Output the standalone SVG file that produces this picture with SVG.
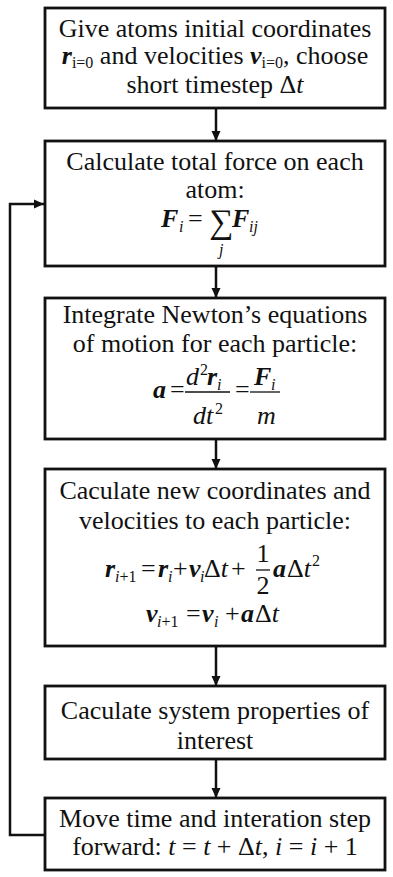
<svg xmlns="http://www.w3.org/2000/svg" width="393" height="877" viewBox="0 0 393 877">
<style>
.box{fill:#fff;stroke:#111;stroke-width:2.8}
.t{font-family:"Liberation Serif","Times New Roman",serif;font-size:26px;fill:#111}
.c{text-anchor:middle}
.bi{font-weight:bold;font-style:italic}
.it{font-style:italic}
.sub{font-size:16px}
.con{fill:none;stroke:#111;stroke-width:2.5}
.fl{stroke:#111;stroke-width:1.3}
</style>
<defs>
<marker id="ah" markerUnits="userSpaceOnUse" markerWidth="11" markerHeight="10" refX="10" refY="5" orient="auto">
<path d="M0,0.5 L10,5 L0,9.5 z" fill="#111"/>
</marker>
</defs>
<rect width="393" height="877" fill="#fff"/>
<g id="connectors">
<line class="con" x1="216" y1="108" x2="216" y2="141" marker-end="url(#ah)"/>
<line class="con" x1="216" y1="266" x2="216" y2="298" marker-end="url(#ah)"/>
<line class="con" x1="216" y1="439" x2="216" y2="469" marker-end="url(#ah)"/>
<line class="con" x1="216" y1="646" x2="216" y2="686" marker-end="url(#ah)"/>
<line class="con" x1="216" y1="759" x2="216" y2="798" marker-end="url(#ah)"/>
<path class="con" d="M45,835 H10 V204 H44" marker-end="url(#ah)"/>
</g>
<g id="node1">
<rect class="box" x="45" y="8" width="340" height="100"/>
<text class="t c" x="215" y="37">Give atoms initial coordinates</text>
<text class="t c" x="215" y="64"><tspan class="bi">r</tspan><tspan class="sub" dy="4">i=0</tspan><tspan dy="-4"> and velocities </tspan><tspan class="bi">v</tspan><tspan class="sub" dy="4">i=0</tspan><tspan dy="-4">, choose</tspan></text>
<text class="t c" x="215" y="93">short timestep Δ<tspan class="it">t</tspan></text>
</g>
<g id="node2">
<rect class="box" x="45" y="141" width="340" height="125"/>
<text class="t c" x="215" y="170">Calculate total force on each</text>
<text class="t c" x="215" y="198">atom:</text>
<text class="t bi" x="161" y="227">F</text>
<text class="t it sub" x="179" y="232">i</text>
<text class="t" x="188" y="227">=</text>
<text class="t" x="209" y="233" style="font-size:34px">∑</text>
<text class="t it sub" x="219" y="255">j</text>
<text class="t bi" x="232" y="227">F</text>
<text class="t it sub" x="249" y="232">ij</text>
</g>
<g id="node3">
<rect class="box" x="45" y="298" width="340" height="141"/>
<text class="t c" x="215" y="323">Integrate Newton’s equations</text>
<text class="t c" x="215" y="352">of motion for each particle:</text>
<text class="t bi" x="153" y="398">a</text>
<text class="t" x="170" y="398">=</text>
<text class="t it" x="186" y="385">d</text>
<text class="t sub" x="200" y="375">2</text>
<text class="t bi" x="207" y="385">r</text>
<text class="t it sub" x="217" y="390">i</text>
<line class="fl" x1="185" y1="392" x2="230" y2="392"/>
<text class="t it" x="193" y="424">dt</text>
<text class="t sub" x="215" y="414">2</text>
<text class="t" x="235" y="398">=</text>
<text class="t bi" x="254" y="385">F</text>
<text class="t it sub" x="271" y="390">i</text>
<line class="fl" x1="250" y1="392" x2="280" y2="392"/>
<text class="t it" x="257" y="424">m</text>
</g>
<g id="node4">
<rect class="box" x="45" y="469" width="340" height="177"/>
<text class="t c" x="215" y="499">Caculate new coordinates and</text>
<text class="t c" x="215" y="529">velocities to each particle:</text>
<text class="t bi" x="105" y="577">r</text>
<text class="t sub" x="115" y="582"><tspan class="it">i</tspan>+1</text>
<text class="t" x="141" y="577">=</text>
<text class="t bi" x="158" y="577">r</text>
<text class="t it sub" x="168" y="582">i</text>
<text class="t" x="173" y="577">+</text>
<text class="t bi" x="189" y="577">v</text>
<text class="t it sub" x="200" y="582">i</text>
<text class="t" x="204" y="577">Δ<tspan class="it">t</tspan></text>
<text class="t" x="231" y="577">+</text>
<text class="t c" x="263" y="562">1</text>
<line class="fl" x1="256" y1="570" x2="270" y2="570"/>
<text class="t c" x="263" y="594">2</text>
<text class="t bi" x="273" y="577">a</text>
<text class="t" x="287" y="577">Δ<tspan class="it">t</tspan></text>
<text class="t sub" x="312" y="566">2</text>
<text class="t bi" x="146" y="622">v</text>
<text class="t sub" x="157" y="627"><tspan class="it">i</tspan>+1</text>
<text class="t" x="186" y="622">=</text>
<text class="t bi" x="202" y="622">v</text>
<text class="t it sub" x="214" y="627">i</text>
<text class="t" x="225" y="622">+</text>
<text class="t bi" x="241" y="622">a</text>
<text class="t" x="255" y="622">Δ<tspan class="it">t</tspan></text>
</g>
<g id="node5">
<rect class="box" x="45" y="686" width="340" height="73"/>
<text class="t c" x="215" y="719">Caculate system properties of</text>
<text class="t c" x="215" y="749">interest</text>
</g>
<g id="node6">
<rect class="box" x="45" y="798" width="340" height="72"/>
<text class="t c" x="215" y="827">Move time and interation step</text>
<text class="t c" x="215" y="855">forward: <tspan class="it">t</tspan> = <tspan class="it">t</tspan> + Δ<tspan class="it">t</tspan>, <tspan class="it">i</tspan> = <tspan class="it">i</tspan> + 1</text>
</g>
</svg>
